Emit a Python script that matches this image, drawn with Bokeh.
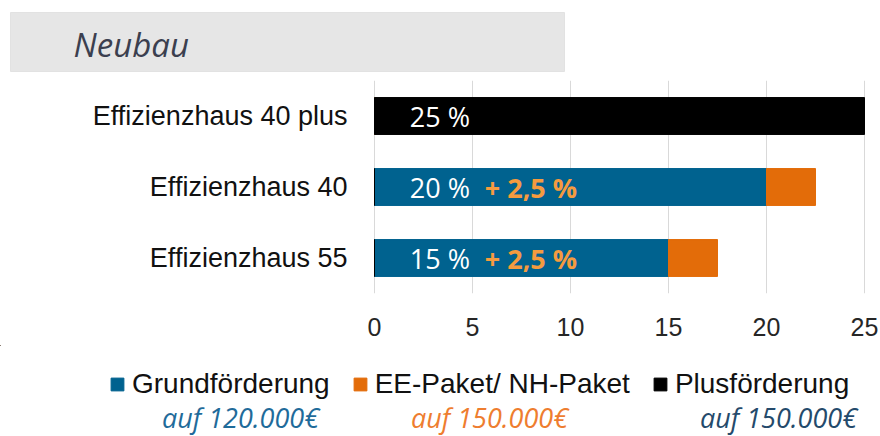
from bokeh.plotting import figure
from bokeh.models import (ColumnDataSource, Legend, LegendItem, FixedTicker, Range1d, FactorRange)
from bokeh.layouts import column
from bokeh.core.properties import value
from bokeh.embed import file_html
from bokeh.resources import INLINE

# ---- data ----
categories = ["Effizienzhaus 55", "Effizienzhaus 40", "Effizienzhaus 40 plus"]
grund = [15, 20, 0]
ee_paket = [2.5, 2.5, 0]
plus = [0, 0, 25]
base_labels = ["15 %", "20 %", "25 %"]
extra_labels = ["+ 2,5 %", "+ 2,5 %", ""]
x_ticks = [0, 5, 10, 15, 20, 25]
legend_names = ["Grundförderung", "EE-Paket/ NH-Paket", "Plusförderung"]
sub_labels = ["auf 120.000€", "auf 150.000€", "auf 150.000€"]
title_text = "Neubau"

BLUE = "#00628f"
ORANGE = "#e36c09"
BLACK = "#000000"
LIGHT_ORANGE = "#f59b3f"
SUB_COLORS = ["#1f6b9a", "#ee7d2f", "#244a6b"]

W = 880
PLOT_LEFT = 374      # pixel position of value 0
PLOT_RIGHT = 864     # pixel position of value 25
X_MAX = 25
PX_PER_UNIT = (PLOT_RIGHT - PLOT_LEFT) / X_MAX

# ---------- title strip ----------
pt = figure(width=W, height=80, x_range=Range1d(0, W), y_range=Range1d(80, 0),
            output_backend="svg", toolbar_location=None, min_border=0)
pt.axis.visible = False
pt.grid.visible = False
pt.outline_line_color = None
pt.quad(left=[10], right=[564], top=[12], bottom=[71], fill_color="#e6e6e6",
        line_color="#e2e2e2")
pt.text(x=[73], y=[44], text=[title_text], text_font=value("Open Sans"),
        text_font_style="italic", text_font_size="33px", text_color="#3b3f4f",
        text_baseline="middle", text_align="left")

# ---------- main chart ----------
ee_left = grund
ee_right = [g + e for g, e in zip(grund, ee_paket)]
zeros = [0] * len(categories)

src = ColumnDataSource(dict(
    cat=categories, grund=grund, zero=zeros, ee_left=ee_left, ee_right=ee_right,
    plus=plus, base=base_labels, extra=extra_labels,
    lx=[1.8] * len(categories),
))

p = figure(width=W, height=265, y_range=FactorRange(*categories),
           x_range=Range1d(-PLOT_LEFT / PX_PER_UNIT, X_MAX + (W - PLOT_RIGHT) / PX_PER_UNIT),
           output_backend="svg", toolbar_location=None,
           min_border_left=0, min_border_right=0, min_border_top=0,
           min_border_bottom=52)
p.outline_line_color = None

p.hbar(y="cat", left="zero", right="grund", height=0.52, color=BLUE, source=src)
p.hbar(y="cat", left="ee_left", right="ee_right", height=0.52, color=ORANGE, source=src)
p.hbar(y="cat", left="zero", right="plus", height=0.52, color=BLACK, source=src)

p.text(x="lx", y="cat", text="base", source=src, text_color="white",
       text_font=value("Open Sans"), text_font_size="27px",
       text_baseline="middle", text_align="left")
p.text(x="lx", y="cat", text="extra", source=src, text_color=LIGHT_ORANGE,
       text_font=value("Open Sans"), text_font_size="27px", text_font_style="bold",
       text_baseline="middle", text_align="left", x_offset=75)

# category labels (y axis)
p.text(x="zero", y="cat", text="cat", source=src, text_color="#111111",
       text_font=value("Liberation Sans"), text_font_size="27px",
       text_baseline="middle", text_align="right", x_offset=-27)
p.yaxis.visible = False

p.xaxis.ticker = FixedTicker(ticks=x_ticks)
p.xaxis.axis_line_color = None
p.xaxis.major_tick_line_color = None
p.xaxis.minor_tick_line_color = None
p.xaxis.major_label_text_font = "Liberation Sans"
p.xaxis.major_label_text_font_size = "25px"
p.xaxis.major_label_text_color = "#262626"
p.xaxis.major_label_standoff = 18

p.xgrid.ticker = FixedTicker(ticks=x_ticks)
p.xgrid.grid_line_color = "#d9d9d9"
p.ygrid.grid_line_color = None

# ---------- legend strip ----------
pl = figure(width=W, height=91, x_range=Range1d(0, W), y_range=Range1d(91, 0),
            output_backend="svg", toolbar_location=None, min_border=0)
pl.axis.visible = False
pl.grid.visible = False
pl.outline_line_color = None

dummies = []
for c in [BLUE, ORANGE, BLACK]:
    dummies.append(pl.hbar(y=[-500], left=[-500], right=[-499], height=1, color=c))

legend = Legend(items=[LegendItem(label=n, renderers=[r]) for n, r in zip(legend_names, dummies)],
                orientation="horizontal", location=(109, 36),
                glyph_width=16, glyph_height=16, label_standoff=7, spacing=22,
                padding=0, margin=0, border_line_color=None,
                background_fill_alpha=0, label_text_font="Liberation Sans",
                label_text_font_size="28px", label_text_color="#111111",
                label_height=26)
pl.add_layout(legend, "center")

pl.text(x=[240, 489, 778], y=[72, 72, 72], text=sub_labels, text_color=SUB_COLORS,
        text_font=value("Open Sans"), text_font_style="italic", text_font_size="27px",
        text_align="center", text_baseline="middle")

layout = column(pt, p, pl, spacing=0)
open("out.html", "w").write(file_html(layout, INLINE))
